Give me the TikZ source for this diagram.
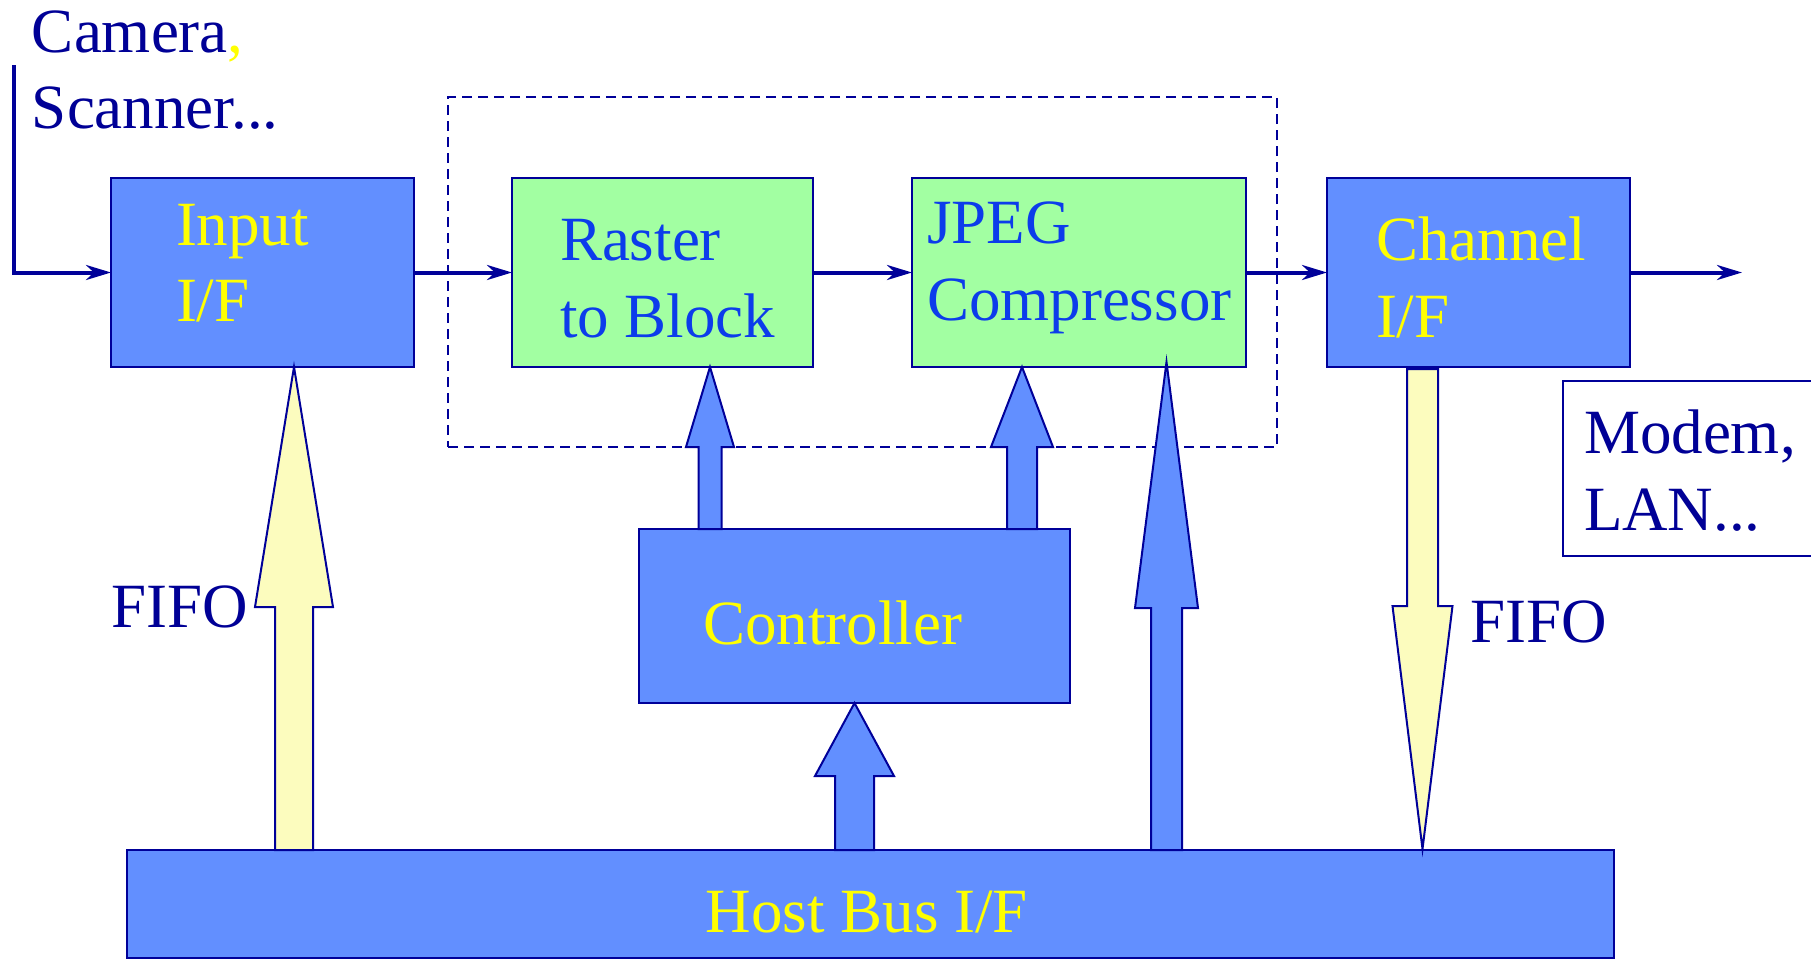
\documentclass[tikz,border=0pt]{standalone}
\usepackage{fontspec}
\setmainfont{Liberation Serif}
\usetikzlibrary{arrows.meta}
\definecolor{lineblue}{RGB}{0,0,153}
\definecolor{fillblue}{RGB}{98,143,255}
\definecolor{fillgreen}{RGB}{162,255,162}
\definecolor{fillyellow}{RGB}{252,252,190}
\definecolor{txtblue}{RGB}{12,60,235}
\definecolor{txtyellow}{RGB}{255,255,0}
\definecolor{txtdark}{RGB}{0,0,150}
\newcommand{\blockarr}[7]{% style, x, tip y, head-base y, tail y, head half, shaft half
  \path[#1] (#2,#3) -- ({#2+#6},#4) -- ({#2+#7},#4) -- ({#2+#7},#5) -- ({#2-#7},#5) -- ({#2-#7},#4) -- ({#2-#6},#4) -- cycle;}
\begin{document}
\begin{tikzpicture}[x=0.5pt,y=-0.5pt,
  font=\fontsize{31.5}{38}\selectfont,
  box/.style={draw=lineblue, line width=1pt, inner sep=0pt, outer sep=0pt, rectangle},
  bluebox/.style={box, fill=fillblue},
  greenbox/.style={box, fill=fillgreen},
  lbl/.style={anchor=base west, inner sep=0pt, outer sep=0pt},
  conn/.style={draw=lineblue, line width=2pt, line join=miter, -{Stealth[length=12.5pt,width=7.5pt,inset=4pt]}},
  blkblue/.style={draw=lineblue, line width=1pt, fill=fillblue, line join=miter},
  blkyellow/.style={draw=lineblue, line width=1pt, fill=fillyellow, line join=miter},
  groupbox/.style={draw=lineblue, line width=0.9pt, dash pattern=on 5pt off 3pt, inner sep=0pt, outer sep=0pt, rectangle}]
\useasboundingbox (0,0) rectangle (1811,959);

% dashed grouping frame
\node[groupbox, minimum width=414.5pt, minimum height=175pt] (group) at (862.5,272) {};

% boxes
\node[bluebox, minimum width=151.5pt, minimum height=94.5pt] (input) at (262.5,272.5) {};
\node[greenbox, minimum width=150.5pt, minimum height=94.5pt] (raster) at (662.5,272.5) {};
\node[greenbox, minimum width=167pt, minimum height=94.5pt] (jpeg) at (1079,272.5) {};
\node[bluebox, minimum width=151.5pt, minimum height=94.5pt] (channel) at (1478.5,272.5) {};
\node[bluebox, minimum width=215.5pt, minimum height=87pt] (ctrl) at (854.5,616) {};
\node[bluebox, line width=1.4pt, minimum width=743.5pt, minimum height=54pt] (host) at (870.5,904) {};
\node[box, fill=white, minimum width=126pt, minimum height=87.5pt] (modem) at (1689,468.5) {};

% connectors
\coordinate (src) at (14,65);
\coordinate (out) at (1742,272.5);
\draw[conn] (src) |- (input.west);
\draw[conn] (input.east) -- (raster.west);
\draw[conn] (raster.east) -- (jpeg.west);
\draw[conn] (jpeg.east) -- (channel.west);
\draw[conn] (channel.east) -- (out);

% block arrows
\blockarr{blkyellow}{294}{367}{607}{850}{39}{19}
\blockarr{blkblue}{710}{367}{447}{529}{24}{11.5}
\blockarr{blkblue}{1022}{367}{447}{529}{31}{15}
\blockarr{blkblue}{854.5}{703}{776}{850}{39.5}{19.5}
\blockarr{blkblue}{1166.5}{362}{608}{850}{31.5}{15.5}
\blockarr{blkyellow}{1422.5}{849}{606}{369}{30}{15.5}

% texts
\node[lbl, text=txtdark] (tcam) at (32,52) {Camera\textcolor{txtyellow}{,}};
\node[lbl, text=txtdark] (tscan) at (32,128) {Scanner...};
\node[lbl, text=txtyellow] (tin1) at (176,245) {Input};
\node[lbl, text=txtyellow] (tin2) at (176,321) {I/F};
\node[lbl, text=txtblue] (tra1) at (560,260) {Raster};
\node[lbl, text=txtblue] (tra2) at (560,337) {to Block};
\node[lbl, text=txtblue] (tjp1) at (927,243) {JPEG};
\node[lbl, text=txtblue] (tjp2) at (927,320) {Compressor};
\node[lbl, text=txtyellow] (tch1) at (1376,260) {Channel};
\node[lbl, text=txtyellow] (tch2) at (1376,337) {I/F};
\node[lbl, text=txtyellow] (tctrl) at (703,644) {Controller};
\node[anchor=base, inner sep=0pt, text=txtyellow] (thost) at (867,932) {Host Bus I/F};
\node[lbl, text=txtdark] (tmo1) at (1584,453) {Modem,};
\node[lbl, text=txtdark] (tmo2) at (1584,530) {LAN...};
\node[lbl, text=txtdark] (tfifo1) at (111,627) {FIFO};
\node[lbl, text=txtdark] (tfifo2) at (1470,642) {FIFO};
\end{tikzpicture}
\end{document}
